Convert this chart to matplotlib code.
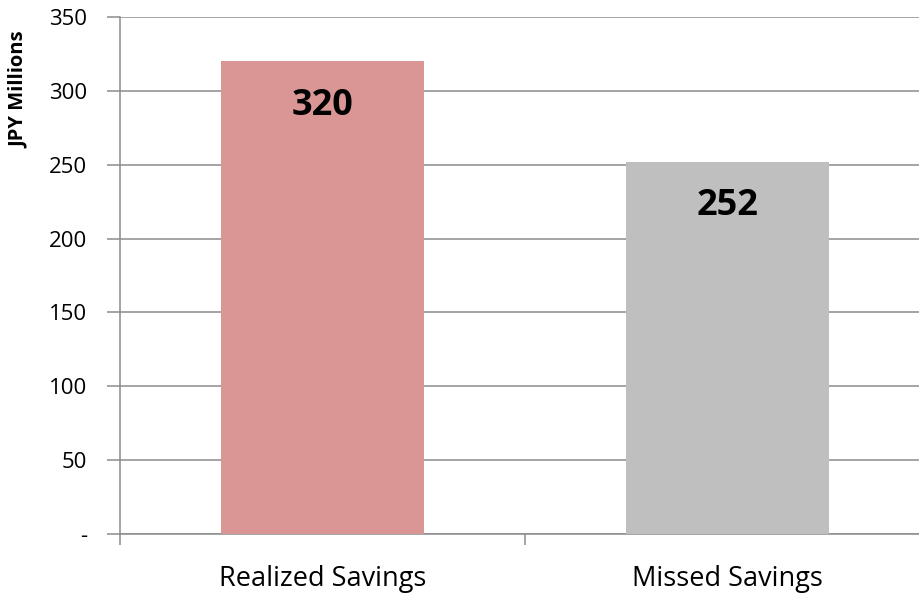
import matplotlib.pyplot as plt

categories = ['Realized Savings', 'Missed Savings']
values = [320, 252]
colors = ['#D99694', '#BFBFBF']
y_ticks = [0, 50, 100, 150, 200, 250, 300, 350]
y_tick_labels = ['-', '50', '100', '150', '200', '250', '300', '350']

plt.rcParams['font.family'] = ['Open Sans', 'DejaVu Sans']
grid_color = '#8C8C8C'

fig = plt.figure(figsize=(9.2, 5.93), dpi=100)
ax = fig.add_axes([120 / 920, 59 / 593, 810 / 920, 517 / 593])

x = range(len(categories))
bars = ax.bar(x, values, width=0.5, color=colors, zorder=3)

for bar, v in zip(bars, values):
    ax.annotate(str(v), (bar.get_x() + bar.get_width() / 2, v),
                xytext=(0, -19), textcoords='offset points',
                ha='center', va='top', fontsize=26, fontweight='bold', zorder=4)

ax.set_xlim(-0.5, 1.5)
ax.set_ylim(0, 350)
ax.set_yticks(y_ticks)
ax.set_yticklabels(y_tick_labels, fontsize=16)
ax.set_xticks(list(x))
ax.set_xticklabels(categories, fontsize=19.5)
ax.set_xticks([-0.5, 0.5, 1.5], minor=True)
ax.tick_params(axis='x', which='major', length=0, pad=22)
ax.tick_params(axis='x', which='minor', length=8, width=1.1, color=grid_color, direction='out')
ax.tick_params(axis='y', length=9.5, width=1.1, color=grid_color, pad=14)

ax.yaxis.grid(True, color=grid_color, linewidth=1.1, zorder=0)
ax.set_axisbelow(True)
for s in ['top', 'right']:
    ax.spines[s].set_visible(False)
for s in ['left', 'bottom']:
    ax.spines[s].set_color(grid_color)
    ax.spines[s].set_linewidth(1.1)

fig.text(19 / 920, 1 - 90 / 593, 'JPY Millions', rotation=90, ha='center', va='center',
         fontsize=14.5, fontweight='bold')

fig.savefig('out.png', dpi=100)
